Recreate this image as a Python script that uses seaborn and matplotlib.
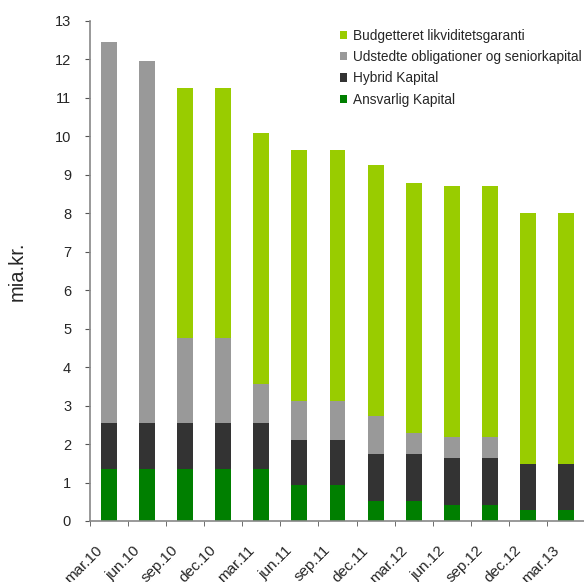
import numpy as np
import pandas as pd
import matplotlib.pyplot as plt
import matplotlib.transforms as mtransforms
import seaborn as sns

# Quarter labels and the four stacked components (mia.kr.)
quarters = ['mar.10', 'jun.10', 'sep.10', 'dec.10', 'mar.11', 'jun.11', 'sep.11',
            'dec.11', 'mar.12', 'jun.12', 'sep.12', 'dec.12', 'mar.13']
ansvarlig = [1.35, 1.35, 1.35, 1.35, 1.35, 0.94, 0.94, 0.52, 0.52, 0.42, 0.42, 0.29, 0.29]
hybrid = [1.20, 1.20, 1.20, 1.20, 1.20, 1.16, 1.16, 1.22, 1.22, 1.22, 1.22, 1.19, 1.19]
udstedte = [9.90, 9.40, 2.20, 2.20, 1.02, 1.02, 1.02, 1.00, 0.55, 0.54, 0.54, 0.00, 0.00]
budget = [0.00, 0.00, 6.50, 6.50, 6.53, 6.53, 6.53, 6.51, 6.51, 6.52, 6.52, 6.52, 6.52]

series = ['Ansvarlig Kapital', 'Hybrid Kapital',
          'Udstedte obligationer og seniorkapital', 'Budgetteret likviditetsgaranti']
colors = ['#007f00', '#333333', '#999999', '#99cc00']

df = pd.DataFrame({'quarter': quarters, series[0]: ansvarlig, series[1]: hybrid,
                   series[2]: udstedte, series[3]: budget})
cum = df[series].cumsum(axis=1)

sns.set_style('white')
plt.rcParams['font.family'] = ['Liberation Sans', 'DejaVu Sans']

fig = plt.figure(figsize=(5.84, 5.82), dpi=100)
ax = fig.add_axes([90 / 584, 61 / 582, 495 / 584, 500 / 582])

# draw cumulative layers from the top down so they look stacked
for name, col in reversed(list(zip(series, colors))):
    sns.barplot(x=df['quarter'], y=cum[name], color=col, width=0.42,
                saturation=1, ax=ax, label=name, linewidth=0)

ax.set_xlim(-0.5, 12.5)
ax.set_ylim(0, 13)
ax.set_yticks(range(0, 14))
ax.set_xlabel('')
ax.set_ylabel('mia.kr.', fontsize=14.5, labelpad=20)

ax.set_xticks(np.arange(-0.5, 13, 1), minor=True)
ax.tick_params(axis='x', which='major', length=0, pad=16, labelsize=11)
ax.tick_params(axis='x', which='minor', length=3.6, color='#555555', direction='out', bottom=True)
ax.tick_params(axis='y', length=3.6, color='#555555', direction='out', left=True, labelsize=10.5, pad=10)
shift = mtransforms.ScaledTranslation(-14 / 100, 0, fig.dpi_scale_trans)
for lab in ax.get_xticklabels():
    lab.set_rotation(45)
    lab.set_ha('right')
    lab.set_rotation_mode('anchor')
    lab.set_transform(lab.get_transform() + shift)

for s in ['top', 'right']:
    ax.spines[s].set_visible(False)
for s in ['left', 'bottom']:
    ax.spines[s].set_color('#888888')
    ax.spines[s].set_linewidth(1.2)

handles, labels = ax.get_legend_handles_labels()
ax.legend(handles, labels, loc='upper left', bbox_to_anchor=(0.494, 0.995),
          frameon=False, fontsize=9.8, handlelength=0.55, handleheight=0.55,
          handletextpad=0.4, labelspacing=0.53, borderaxespad=0)

fig.savefig('out.png', dpi=100)
